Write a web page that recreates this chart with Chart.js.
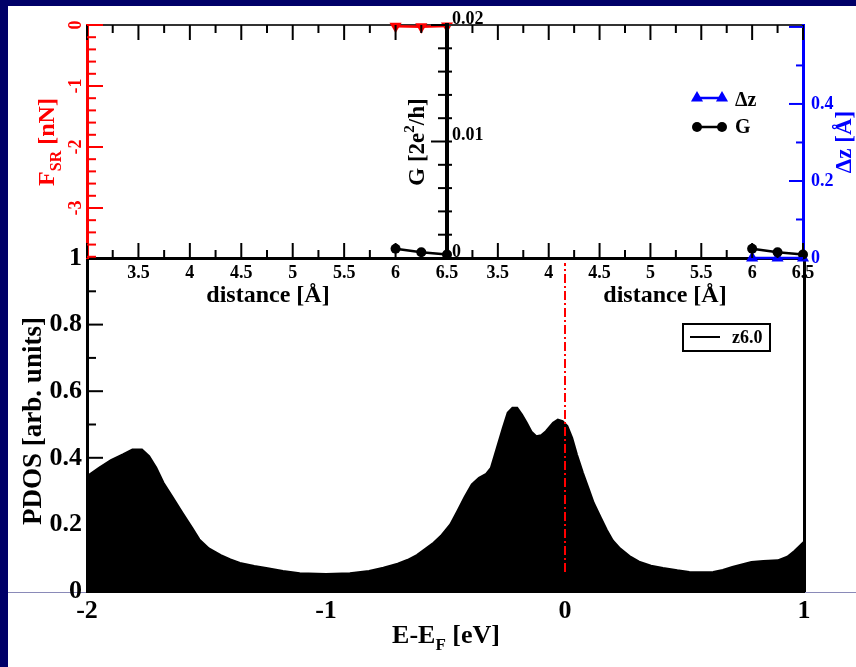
<!DOCTYPE html>
<html>
<head>
<meta charset="utf-8">
<script src="https://cdn.jsdelivr.net/npm/chart.js"></script>
<style>
  html, body { margin: 0; padding: 0; background: #fff; }
  #page { position: relative; width: 856px; height: 667px; overflow: hidden; background: #fff; }
  #page canvas { position: absolute; left: 0; top: 0; }
  .bar { position: absolute; background: #000068; }
</style>
</head>
<body>
<div id="page">
  <div class="bar" style="left:0;top:0;width:856px;height:6px"></div>
  <div class="bar" style="left:0;top:0;width:8px;height:667px"></div>
  <div style="position:absolute;left:8px;top:592px;width:848px;height:1px;background:#8a8ab8"></div>
  <canvas id="main" width="856" height="667"></canvas>
  <canvas id="left" width="856" height="667"></canvas>
  <canvas id="right" width="856" height="667"></canvas>
</div>
<script>
const FONT = "'Liberation Serif', 'Times New Roman', serif";

// main panel: projected DOS around the Fermi level
const energy = [-2.0, -1.95, -1.9, -1.85, -1.81, -1.77, -1.74, -1.71, -1.68, -1.64, -1.6, -1.56, -1.53, -1.49,
  -1.44, -1.4, -1.36, -1.3, -1.25, -1.18, -1.11, -1.0, -0.9, -0.82, -0.76, -0.7, -0.66, -0.62, -0.58,
  -0.55, -0.52, -0.48, -0.45, -0.42, -0.39, -0.36, -0.33, -0.31, -0.285, -0.26, -0.24, -0.22, -0.2,
  -0.18, -0.16, -0.14, -0.12, -0.1, -0.08, -0.05, -0.03, -0.01, 0.01, 0.03, 0.05, 0.075, 0.1, 0.12,
  0.15, 0.175, 0.2, 0.23, 0.27, 0.31, 0.36, 0.41, 0.47, 0.52, 0.57, 0.62, 0.66, 0.7, 0.74, 0.78,
  0.83, 0.89, 0.93, 0.96, 1.0];
const pdos = [0.345, 0.37, 0.393, 0.41, 0.425, 0.425, 0.405, 0.37, 0.325, 0.28, 0.234, 0.19, 0.155, 0.128,
  0.108, 0.095, 0.084, 0.075, 0.069, 0.06, 0.053, 0.051, 0.053, 0.06, 0.07, 0.082, 0.093, 0.108, 0.129,
  0.145, 0.165, 0.2, 0.24, 0.282, 0.32, 0.34, 0.352, 0.37, 0.43, 0.49, 0.535, 0.55, 0.55,
  0.53, 0.505, 0.478, 0.465, 0.468, 0.48, 0.505, 0.515, 0.51, 0.495, 0.46, 0.41, 0.355, 0.305, 0.265,
  0.22, 0.183, 0.152, 0.128, 0.105, 0.088, 0.076, 0.069, 0.062, 0.057, 0.056, 0.057, 0.063, 0.072, 0.08, 0.087,
  0.09, 0.092, 0.103, 0.12, 0.148];
const fermiEnergy = 0;
const fermiSpan = [0.057, 0.985];

// insets: quantities vs tip distance
const distance = [6.0, 6.25, 6.5];
const conductance = [0.0008, 0.0005, 0.0003];
const forceSR = [-0.02, -0.03, -0.015];
const deltaZ = [0.0, 0.0, 0.0];

// axis ranges
const energyRange = [-2, 1];
const pdosRange = [0, 1];
const distanceRange = [3, 6.5];
const forceRange = [-3.82, 0];
const gRange = [0, 0.02];
const dzRange = [0, 0.605];

Chart.defaults.font.family = FONT;
Chart.defaults.font.weight = 'bold';

// fixed box size for a scale, so the plot areas line up across the three canvases
const boxSize = (n) => (s) => { if (s.isHorizontal()) s.height = n; else s.width = n; };
const fmt = (v) => String(+v.toFixed(3));
const hide3 = (v) => (v === 3 ? '' : fmt(v));
const noGrid = { display: false, drawTicks: false };

// ticks pointing into the plot, major + minor
function inwardTicks(specs) {
  return {
    id: 'inwardTicks',
    afterDraw(chart) {
      const { ctx, chartArea: a } = chart;
      specs.forEach((t) => {
        const s = chart.scales[t.scale];
        ctx.save();
        ctx.strokeStyle = t.color;
        ctx.lineWidth = t.width || 2;
        const first = Math.ceil(s.min / t.minor - 1e-6);
        const last = Math.floor(s.max / t.minor + 1e-6);
        for (let i = first; i <= last; i++) {
          const v = i * t.minor;
          const major = Math.abs(v / t.major - Math.round(v / t.major)) < 1e-6;
          const len = major ? t.majorLen : t.minorLen;
          const out = t.out || 0;
          const p = s.getPixelForValue(v);
          ctx.beginPath();
          if (t.edge === 'bottom') { ctx.moveTo(p, a.bottom + out); ctx.lineTo(p, a.bottom - len); }
          else if (t.edge === 'top') { ctx.moveTo(p, a.top - out); ctx.lineTo(p, a.top + len); }
          else if (t.edge === 'left') { ctx.moveTo(a.left - out, p); ctx.lineTo(a.left + len, p); }
          else { ctx.moveTo(a.right + out, p); ctx.lineTo(a.right - len, p); }
          ctx.stroke();
        }
        ctx.restore();
      });
    }
  };
}

function drawRich(ctx, it) {
  const size = it.size;
  const fontFor = (p) => 'bold ' + (p.sub || p.sup ? Math.round(size * 0.65) : size) + 'px ' + FONT;
  const widths = it.parts.map((p) => { ctx.font = fontFor(p); return ctx.measureText(p.t).width; });
  const total = widths.reduce((a, b) => a + b, 0);
  ctx.save();
  ctx.translate(it.x, it.y);
  ctx.rotate(it.rot || 0);
  ctx.fillStyle = it.color || '#000';
  ctx.textAlign = 'left';
  ctx.textBaseline = 'alphabetic';
  let cx = -total / 2;
  it.parts.forEach((p, i) => {
    ctx.font = fontFor(p);
    const dy = p.sub ? size * 0.3 : p.sup ? -size * 0.42 : 0;
    ctx.fillText(p.t, cx, size * 0.33 + dy);
    cx += widths[i];
  });
  ctx.restore();
}

function axisTitles(items) {
  return { id: 'axisTitles', afterDraw(chart) { items.forEach((it) => drawRich(chart.ctx, it)); } };
}

function drawMarker(ctx, style, x, y, r, rot) {
  ctx.beginPath();
  if (style === 'circle') {
    ctx.arc(x, y, r, 0, Math.PI * 2);
  } else {
    let a = (rot || 0) * Math.PI / 180;
    ctx.moveTo(x + Math.sin(a) * r, y - Math.cos(a) * r);
    a += 2 * Math.PI / 3;
    ctx.lineTo(x + Math.sin(a) * r, y - Math.cos(a) * r);
    a += 2 * Math.PI / 3;
    ctx.lineTo(x + Math.sin(a) * r, y - Math.cos(a) * r);
    ctx.closePath();
  }
  ctx.fill();
}

// legend rows: line with a marker at both ends, taken from the dataset style
function rowLegend(cfg) {
  return {
    id: 'rowLegend',
    afterDraw(chart) {
      const ctx = chart.ctx;
      ctx.save();
      if (cfg.box) {
        ctx.strokeStyle = '#000';
        ctx.lineWidth = 2;
        ctx.strokeRect(cfg.box[0], cfg.box[1], cfg.box[2], cfg.box[3]);
      }
      cfg.rows.forEach((row) => {
        const ds = chart.data.datasets[row.index];
        ctx.strokeStyle = ds.borderColor;
        ctx.fillStyle = ds.borderColor;
        ctx.lineWidth = ds.borderWidth;
        ctx.beginPath();
        ctx.moveTo(cfg.x0, row.y);
        ctx.lineTo(cfg.x1, row.y);
        ctx.stroke();
        if (ds.pointRadius) {
          drawMarker(ctx, ds.pointStyle, cfg.x0, row.y, ds.pointRadius, 0);
          drawMarker(ctx, ds.pointStyle, cfg.x1, row.y, ds.pointRadius, 0);
        }
        ctx.fillStyle = '#000';
        ctx.font = 'bold ' + cfg.size + 'px ' + FONT;
        ctx.textBaseline = 'middle';
        ctx.textAlign = 'left';
        ctx.fillText(ds.label, cfg.tx, row.y + (row.dy || 0));
      });
      ctx.restore();
    }
  };
}

const tickFont = (size) => ({ family: FONT, size: size, weight: 'bold' });
const baseOpts = (pad) => ({
  responsive: false,
  animation: false,
  devicePixelRatio: 1,
  layout: { autoPadding: false, padding: pad },
  plugins: { legend: { display: false }, tooltip: { enabled: false } }
});

// ---------- main PDOS chart ----------
new Chart(document.getElementById('main'), {
  type: 'line',
  data: {
    datasets: [
      {
        label: 'z6.0',
        data: energy.map((e, i) => ({ x: e, y: pdos[i] })),
        borderColor: '#000', backgroundColor: '#000', borderWidth: 2,
        fill: 'origin', pointRadius: 0, order: 1
      },
      {
        label: 'EF',
        data: fermiSpan.map((v) => ({ x: fermiEnergy, y: v })),
        borderColor: '#ff0000', borderWidth: 2, borderDash: [9, 3, 2, 3],
        fill: false, pointRadius: 0, order: 0
      }
    ]
  },
  // plot area: x 87..804, y 258..591
  options: Object.assign(baseOpts({ left: 0, right: 0, top: 258, bottom: 0 }), {
    scales: {
      x: {
        type: 'linear', min: energyRange[0], max: energyRange[1], afterFit: boxSize(76),
        grid: noGrid, border: { color: '#000', width: 3 },
        ticks: { stepSize: 1, padding: 5, color: '#000', font: tickFont(26), callback: fmt }
      },
      y: {
        type: 'linear', min: pdosRange[0], max: pdosRange[1], afterFit: boxSize(87),
        grid: noGrid, border: { color: '#000', width: 3 },
        ticks: { stepSize: 0.2, padding: 5, color: '#000', font: tickFont(26), callback: fmt }
      },
      yR: {
        type: 'linear', position: 'right', display: true, min: pdosRange[0], max: pdosRange[1], afterFit: boxSize(52),
        grid: noGrid, border: { color: '#000', width: 3 }, ticks: { display: false }
      }
    }
  }),
  plugins: [
    inwardTicks([{ scale: 'y', edge: 'left', major: 0.2, minor: 0.1, majorLen: 16, minorLen: 9, color: '#000' }]),
    axisTitles([
      { x: 32, y: 421, rot: -Math.PI / 2, size: 27, parts: [{ t: 'PDOS [arb. units]' }] },
      { x: 446, y: 634, size: 26, parts: [{ t: 'E-E' }, { t: 'F', sub: true }, { t: ' [eV]' }] }
    ]),
    rowLegend({ box: [683, 324, 87, 27], x0: 690, x1: 720, tx: 732, size: 18, rows: [{ index: 0, y: 337, dy: 1 }] })
  ]
});

// ---------- insets share the distance axis set-up ----------
const insetX = {
  type: 'linear', min: distanceRange[0], max: distanceRange[1], afterFit: boxSize(40), z: 1,
  grid: noGrid, border: { color: '#000', width: 3 },
  ticks: { stepSize: 0.5, padding: 5, color: '#000', font: tickFont(18), callback: hide3 }
};
const insetTop = {
  type: 'linear', position: 'top', display: true, min: distanceRange[0], max: distanceRange[1], afterFit: boxSize(0),
  grid: noGrid, border: { color: '#333', width: 2 }, ticks: { display: false }
};
const xTicks = [
  { scale: 'x', edge: 'bottom', major: 0.5, minor: 0.25, majorLen: 15, minorLen: 8, color: '#000' },
  { scale: 'x', edge: 'top', major: 0.5, minor: 0.25, majorLen: 15, minorLen: 8, color: '#000' }
];

// ---------- left inset: F_SR and G ----------
new Chart(document.getElementById('left'), {
  type: 'line',
  data: {
    datasets: [
      {
        label: 'F', yAxisID: 'yF',
        data: distance.map((d, i) => ({ x: d, y: forceSR[i] })),
        borderColor: '#ff0000', backgroundColor: '#ff0000', borderWidth: 2.5,
        pointStyle: 'triangle', pointRotation: 180, pointRadius: 7, pointBorderWidth: 0, clip: false
      },
      {
        label: 'G', yAxisID: 'yG',
        data: distance.map((d, i) => ({ x: d, y: conductance[i] })),
        borderColor: '#000', backgroundColor: '#000', borderWidth: 2.5,
        pointStyle: 'circle', pointRadius: 5, pointBorderWidth: 0, clip: false
      }
    ]
  },
  // plot area: x 87..447, y 25..258
  options: Object.assign(baseOpts({ left: 0, right: 349, top: 25, bottom: 369 }), {
    scales: {
      x: insetX,
      xTop: insetTop,
      yF: {
        type: 'linear', position: 'left', min: forceRange[0], max: forceRange[1], afterFit: boxSize(87),
        grid: noGrid, border: { color: '#ff0000', width: 3 },
        ticks: {
          stepSize: 1, includeBounds: false, padding: 3, color: '#ff0000', font: tickFont(18),
          minRotation: 90, maxRotation: 90, crossAlign: 'center', callback: fmt
        }
      },
      yG: {
        type: 'linear', position: 'right', min: gRange[0], max: gRange[1], afterFit: boxSize(60),
        grid: noGrid, border: { color: '#000', width: 4 },
        ticks: { stepSize: 0.01, padding: 5, labelOffset: -6, color: '#000', font: tickFont(18), callback: fmt }
      }
    }
  }),
  plugins: [
    inwardTicks(xTicks.concat([
      { scale: 'yF', edge: 'left', major: 1, minor: 0.2, majorLen: 16, minorLen: 9, color: '#ff0000' },
      { scale: 'yG', edge: 'right', major: 0.01, minor: 0.002, majorLen: 16, minorLen: 9, out: 5, color: '#000' }
    ])),
    axisTitles([
      { x: 46, y: 142, rot: -Math.PI / 2, size: 24, color: '#ff0000', parts: [{ t: 'F' }, { t: 'SR', sub: true }, { t: ' [nN]' }] },
      { x: 416, y: 142, rot: -Math.PI / 2, size: 23, parts: [{ t: 'G [2e' }, { t: '2', sup: true }, { t: '/h]' }] },
      { x: 268, y: 294, size: 24, parts: [{ t: 'distance [Å]' }] }
    ])
  ]
});

// ---------- right inset: dz and G ----------
new Chart(document.getElementById('right'), {
  type: 'line',
  data: {
    datasets: [
      {
        label: 'Δz', yAxisID: 'yDz',
        data: distance.map((d, i) => ({ x: d, y: deltaZ[i] })),
        borderColor: '#0000ff', backgroundColor: '#0000ff', borderWidth: 2.5,
        pointStyle: 'triangle', pointRadius: 7, pointBorderWidth: 0, clip: false, order: 1
      },
      {
        label: 'G', yAxisID: 'yG',
        data: distance.map((d, i) => ({ x: d, y: conductance[i] })),
        borderColor: '#000', backgroundColor: '#000', borderWidth: 2.5,
        pointStyle: 'circle', pointRadius: 5, pointBorderWidth: 0, clip: false, order: 0
      }
    ]
  },
  // plot area: x 447..803, y 25..258
  options: Object.assign(baseOpts({ left: 447, right: 0, top: 25, bottom: 369 }), {
    scales: {
      x: insetX,
      xTop: insetTop,
      yG: {
        type: 'linear', position: 'left', min: gRange[0], max: gRange[1], afterFit: boxSize(0),
        grid: noGrid, border: { color: '#000', width: 4 }, ticks: { display: false }
      },
      yDz: {
        type: 'linear', position: 'right', min: dzRange[0], max: dzRange[1], afterFit: boxSize(53),
        grid: noGrid, border: { color: '#0000ff', width: 3 },
        ticks: {
          stepSize: 0.2, includeBounds: false, padding: 8, color: '#0000ff', font: tickFont(18),
          callback: (v) => (v > 0.55 ? '' : fmt(v))
        }
      }
    }
  }),
  plugins: [
    inwardTicks(xTicks.concat([
      { scale: 'yDz', edge: 'right', major: 0.2, minor: 0.1, majorLen: 14, minorLen: 7, color: '#0000ff' }
    ])),
    axisTitles([
      { x: 843, y: 142, rot: -Math.PI / 2, size: 23, color: '#0000ff', parts: [{ t: 'Δz [Å]' }] },
      { x: 665, y: 294, size: 24, parts: [{ t: 'distance [Å]' }] }
    ]),
    rowLegend({ x0: 697, x1: 722, tx: 735, size: 20, rows: [{ index: 0, y: 98, dy: 3 }, { index: 1, y: 127, dy: 1 }] })
  ]
});
</script>
</body>
</html>
